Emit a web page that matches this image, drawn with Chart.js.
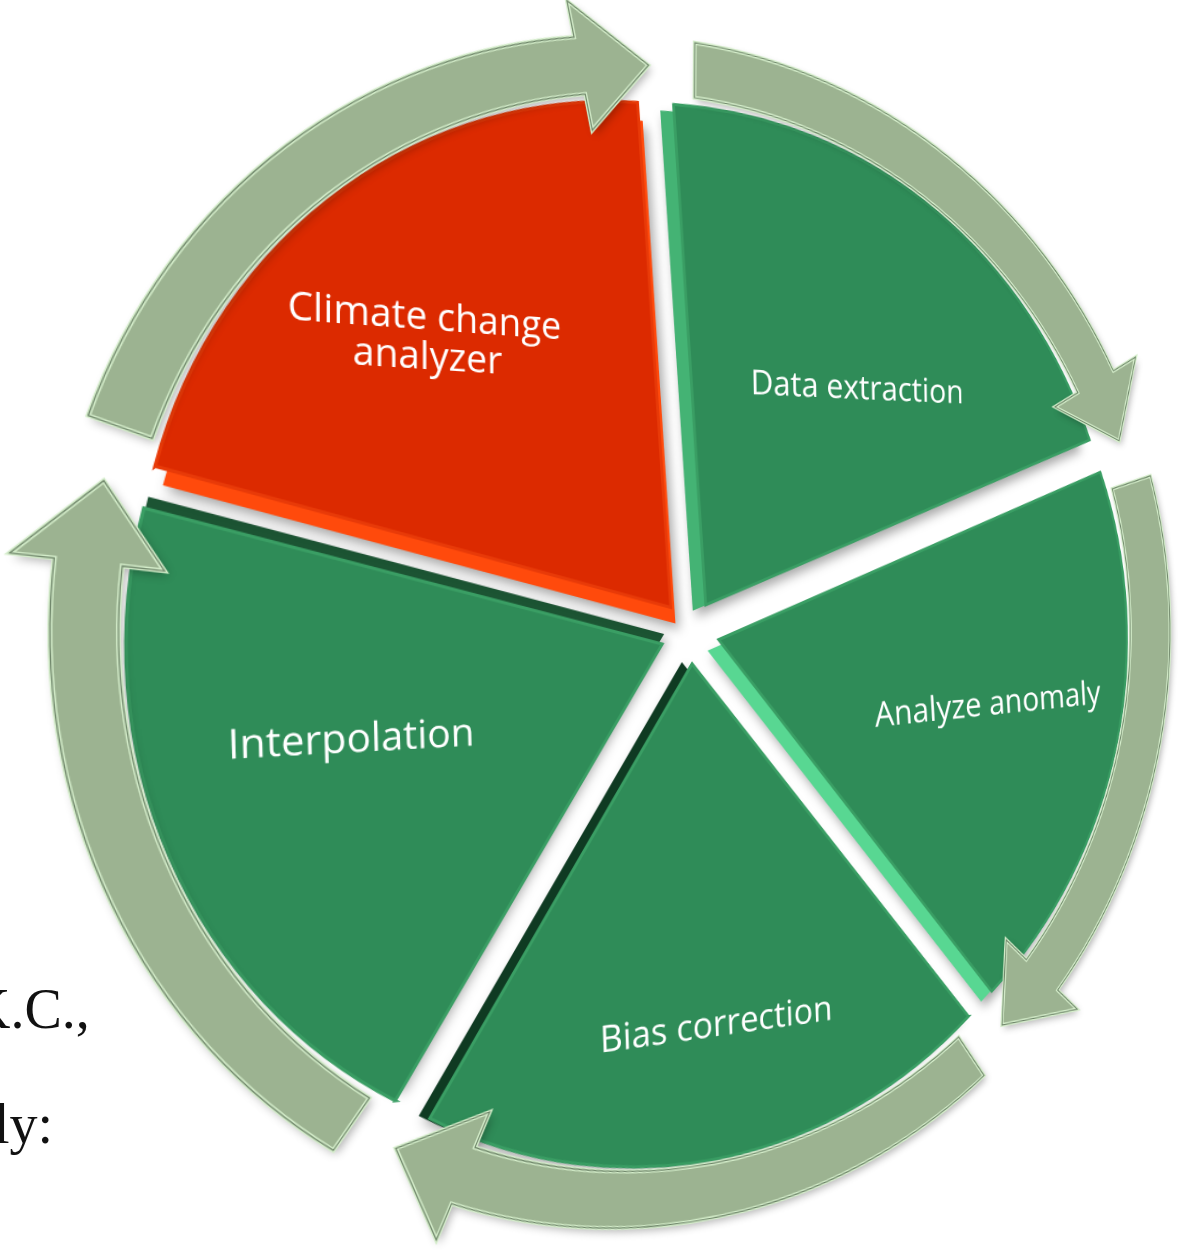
<!DOCTYPE html>
<html>
<head>
<meta charset="utf-8">
<script src="https://cdn.jsdelivr.net/npm/chart.js@4.4.1/dist/chart.umd.min.js"></script>
<style>
  html, body { margin: 0; padding: 0; background: #fff; }
  #page { position: relative; width: 1184px; height: 1255px; overflow: hidden; }
  /* the diagram is tilted like the original 3D drawing: left side nearer */
  #c { position: absolute; left: 0; top: 0; transform-origin: 690px 632px; transform: perspective(1519px) rotateY(21.6deg); }
  .doc { position: absolute; font-family: "Liberation Serif", "DejaVu Serif", serif; font-size: 56px; line-height: 56px; color: #111; white-space: nowrap; }
</style>
</head>
<body>
<div id="page">
  <div class="doc" style="left:-30px; top:981px;">K.C.,</div>
  <div class="doc" style="left:-6px; top:1096px;">ly:</div>
  <canvas id="c" width="1330" height="1270" style="width:1330px; height:1270px;"></canvas>
</div>
<script>
// the five steps of the cycle, clockwise from the top
var steps = ['Data extraction', 'Analyze anomaly', 'Bias correction', 'Interpolation', 'Climate change analyzer'];
var stepLines = [['Data extraction'], ['Analyze anomaly'], ['Bias correction'], ['Interpolation'], ['Climate change', 'analyzer']];
var stepShares = [20, 20, 20, 20, 20];
var arrowShares = [20, 20, 20, 20, 20];

var GREEN = '#2f8c58';
var RED = '#dc2a00';

// placement of the text inside each slice (angle shift in degrees, radius as a share of the slice)
var labelStyles = [
    { size: 35, shift: 5.6, r: 0.575, rot: -1 },
    { size: 36.5, shift: -1.4, r: 0.66, rot: -4 },
    { size: 36.5, shift: -0.7, r: 0.735, rot: -2 },
    { size: 37, shift: 5.8, r: 0.632, rot: -1.5 },
    { size: 36, shift: -4.1, r: 0.70, rot: 0 }
];

// the thick side of each slice, seen under its top face
var sideStyles = [
    { dx: -14, dy: 6, color: '#44b374' },
    { dx: -12, dy: 11, color: '#58d792' },
    { dx: -11, dy: -2, color: '#0f3a22' },
    { dx: 2, dy: -10, color: '#1c5433' },
    { dx: 5, dy: 16, color: '#ff4a0c' }
];

var arrowStyle = { band: 55, overhang: 35, head: 72, tailGap: 5 };

function arrowPath(ctx, p, st) {
    var rOut = p.outerRadius;
    var rIn = rOut - st.band;
    var rMid = (rOut + rIn) / 2;
    var a0 = p.startAngle + st.tailGap * Math.PI / 180;
    var a1 = p.endAngle;
    var aH = a1 - st.head / rMid;
    function pt(r, a) { return [p.x + r * Math.cos(a), p.y + r * Math.sin(a)]; }
    ctx.beginPath();
    ctx.arc(p.x, p.y, rOut, a0, aH);
    var q = pt(rOut + st.overhang, aH); ctx.lineTo(q[0], q[1]);
    q = pt(rMid, a1); ctx.lineTo(q[0], q[1]);
    q = pt(rIn - st.overhang, aH); ctx.lineTo(q[0], q[1]);
    q = pt(rIn, aH); ctx.lineTo(q[0], q[1]);
    ctx.arc(p.x, p.y, rIn, aH, a0, true);
    ctx.closePath();
}

var cyclePlugin = {
    id: 'cyclePlugin',
    beforeDatasetDraw: function (chart, args) {
        if (args.index !== 1) return;
        var ctx = chart.ctx;
        ctx.save();
        ctx.shadowColor = 'rgba(0,0,0,0.35)';
        ctx.shadowBlur = 12;
        ctx.shadowOffsetX = 4;
        ctx.shadowOffsetY = 6;
        args.meta.data.forEach(function (arc, i) {
            var p = arc.getProps(['x', 'y', 'startAngle', 'endAngle', 'outerRadius']);
            var s = sideStyles[i];
            var off = (arc.options.offset || 0) / 4;
            var mid = (p.startAngle + p.endAngle) / 2;
            var x = p.x + off * Math.cos(mid) + s.dx;
            var y = p.y + off * Math.sin(mid) + s.dy;
            ctx.beginPath();
            ctx.moveTo(x, y);
            ctx.arc(x, y, p.outerRadius, p.startAngle, p.endAngle);
            ctx.closePath();
            ctx.fillStyle = s.color;
            ctx.fill();
        });
        ctx.restore();
    },
    afterDatasetsDraw: function (chart) {
        var ctx = chart.ctx;
        // arrows round the pie
        chart.getDatasetMeta(0).data.forEach(function (arc) {
            var p = arc.getProps(['x', 'y', 'startAngle', 'endAngle', 'outerRadius']);
            ctx.save();
            ctx.shadowColor = 'rgba(0,0,0,0.3)';
            ctx.shadowBlur = 8;
            ctx.shadowOffsetX = 3;
            ctx.shadowOffsetY = 4;
            arrowPath(ctx, p, arrowStyle);
            ctx.fillStyle = '#9cb391';
            ctx.fill();
            ctx.restore();
            ctx.save();
            arrowPath(ctx, p, arrowStyle);
            ctx.lineJoin = 'miter';
            ctx.strokeStyle = '#d4edca';
            ctx.lineWidth = 4;
            ctx.stroke();
            ctx.strokeStyle = '#6f866a';
            ctx.lineWidth = 1.2;
            ctx.stroke();
            ctx.restore();
        });
        // slice texts
        var meta = chart.getDatasetMeta(1);
        meta.data.forEach(function (arc, i) {
            var p = arc.getProps(['x', 'y', 'startAngle', 'endAngle', 'outerRadius']);
            var st = labelStyles[i];
            var off = (arc.options.offset || 0) / 4; // arcs move by a quarter of the offset
            var mid = (p.startAngle + p.endAngle) / 2;
            var a = mid + st.shift * Math.PI / 180;
            var x = p.x + off * Math.cos(mid) + st.r * p.outerRadius * Math.cos(a);
            var y = p.y + off * Math.sin(mid) + st.r * p.outerRadius * Math.sin(a);
            var lines = stepLines[i];
            ctx.save();
            ctx.translate(x, y);
            ctx.rotate(st.rot * Math.PI / 180);
            ctx.fillStyle = '#ffffff';
            ctx.font = st.size + 'px "Open Sans", "Noto Sans", sans-serif';
            ctx.textAlign = 'center';
            ctx.textBaseline = 'middle';
            var lh = st.size * 1.05;
            lines.forEach(function (t, k) {
                ctx.fillText(t, 0, (k - (lines.length - 1) / 2) * lh);
            });
            ctx.restore();
        });
    }
};

new Chart(document.getElementById('c'), {
    type: 'pie',
    data: {
        labels: steps,
        datasets: [
            {
                label: 'cycle',
                data: arrowShares,
                weight: 0.057,
                rotation: -4.5,
                backgroundColor: 'rgba(0,0,0,0)',
                borderWidth: 0,
                offset: 0
            },
            {
                label: 'steps',
                data: stepShares,
                weight: 1,
                rotation: -4,
                backgroundColor: [GREEN, GREEN, GREEN, GREEN, RED],
                borderColor: ['#3a9e64', '#3a9e64', '#3a9e64', '#3a9e64', '#e83a08'],
                borderWidth: 3,
                borderJoinStyle: 'miter',
                offset: 128
            }
        ]
    },
    options: {
        responsive: false,
        animation: false,
        events: [],
        layout: { padding: { left: 100, right: 50, top: 42, bottom: 48 } },
        plugins: {
            legend: { display: false },
            tooltip: { enabled: false }
        }
    },
    plugins: [cyclePlugin]
});
</script>
</body>
</html>
